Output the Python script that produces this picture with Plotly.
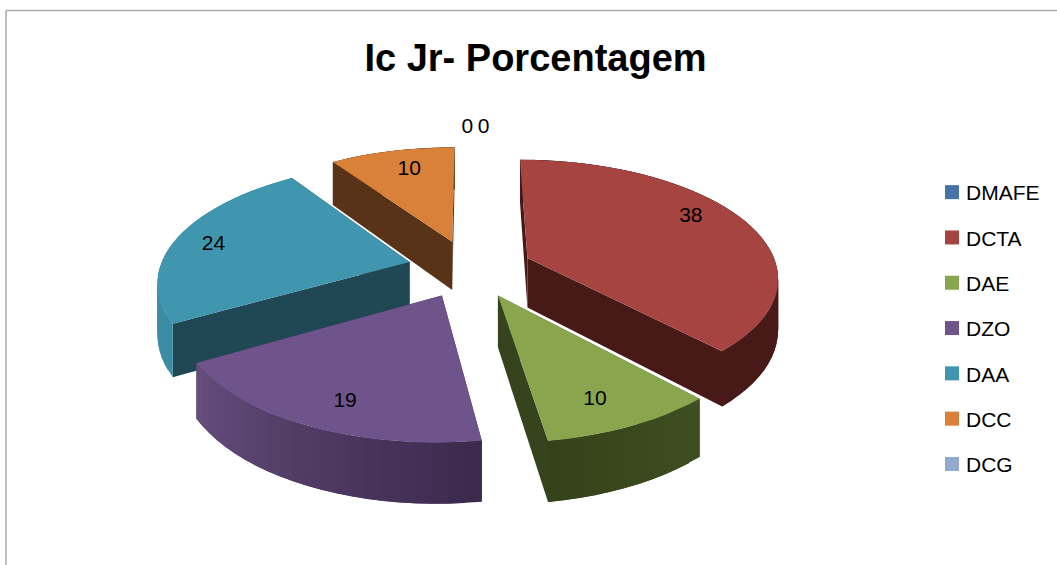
import math
import plotly.graph_objects as go

categories = ["DMAFE", "DCTA", "DAE", "DZO", "DAA", "DCC", "DCG"]
values = [0, 38.1, 9.5, 19.0, 23.8, 9.5, 0]

top_colors = ["#4573A7", "#A64442", "#89A64E", "#6F548C", "#3F96AE", "#D98139", "#93A9CF"]
wall_colors = ["#2A4565", "#471A18", "#37431C", "#3B2A4E", "#1F4854", "#593317", "#586680"]
outer_from = ["#4573A7", "#471A18", "#3F4E22", "#3B2A4E", "#3C8CA3", "#593317", "#586680"]
outer_to = ["#4573A7", "#471A18", "#364219", "#654D7C", "#3C8CA3", "#593317", "#586680"]
draw_order = [5, 4, 1, 3, 2]
label_dtheta = [3.1, -6.9, 2.4, -3.0, -2, 1.5, -0.6]
label_r = [1.23, 0.81, 0.81, 0.82, 0.83, 0.76, 1.23]

CX, CY, A, B, K, H, EXPLODE, ROT = 470, 268.5, 250, 116, 0.15, 50, 0.25, 0
FONT = "Liberation Sans"

total = sum(values)
starts, acc = [], 0
for v in values:
    starts.append(acc / total * 360 + ROT)
    acc += v


def project(theta_deg, r, z, mid_deg):
    t, m = math.radians(theta_deg), math.radians(mid_deg)
    x = r * math.sin(t) + EXPLODE * math.sin(m)
    y = -r * math.cos(t) - EXPLODE * math.cos(m)
    s = 1 / (1 - K * y)
    return CX + A * x * s, CY + B * y * s + H * z * s


def mix(c1, c2, f):
    a = [int(c1[i:i + 2], 16) for i in (1, 3, 5)]
    b = [int(c2[i:i + 2], 16) for i in (1, 3, 5)]
    return "#%02x%02x%02x" % tuple(round(p + (q - p) * f) for p, q in zip(a, b))


fig = go.Figure()


def poly(pts, color):
    xs = [p[0] for p in pts] + [pts[0][0]]
    ys = [p[1] for p in pts] + [pts[0][1]]
    fig.add_trace(go.Scatter(x=xs, y=ys, mode="lines", fill="toself", fillcolor=color,
                             line=dict(color=color, width=0), showlegend=False,
                             hoverinfo="skip"))


for i in draw_order:
    a0 = starts[i]
    sweep = values[i] / total * 360
    a1 = a0 + sweep
    mid = a0 + sweep / 2
    n = max(2, int(sweep / 3))
    angles = [a0 + sweep * j / n for j in range(n + 1)]
    # radial walls
    for edge in (a0, a1):
        poly([project(edge, 0, 0, mid), project(edge, 1, 0, mid),
              project(edge, 1, 1, mid), project(edge, 0, 1, mid)], wall_colors[i])
    # outer curved wall: strips overlap so no seams show
    for j in range(n):
        end = angles[min(j + 2, n)]
        poly([project(angles[j], 1, 0, mid), project(end, 1, 0, mid),
              project(end, 1, 1, mid), project(angles[j], 1, 1, mid)],
             mix(outer_from[i], outer_to[i], j / max(1, n - 1)))
    # top face
    poly([project(0, 0, 0, mid)] + [project(t, 1, 0, mid) for t in angles], top_colors[i])

# data labels
lx, ly, lt = [], [], []
for i, v in enumerate(values):
    mid = starts[i] + v / total * 180
    px, py = project(mid + label_dtheta[i], label_r[i], 0, mid)
    lx.append(px)
    ly.append(py)
    lt.append(f"{v:.0f}")
fig.add_trace(go.Scatter(x=lx, y=ly, text=lt, mode="text", showlegend=False, hoverinfo="skip",
                         textposition="middle center",
                         textfont=dict(family=FONT, size=21, color="#000000")))

# legend entries
for i, c in enumerate(categories):
    fig.add_trace(go.Scatter(x=[None], y=[None], mode="markers", name=c, legendgroup=c,
                             marker=dict(symbol="square", size=14, color=top_colors[i])))

# chart frame
fig.add_shape(type="line", xref="paper", yref="paper", x0=6 / 1057, x1=1, y0=1 - 10.5 / 565, y1=1 - 10.5 / 565,
              line=dict(color="#ABABAB", width=1.5))
fig.add_shape(type="line", xref="paper", yref="paper", x0=6 / 1057, x1=6 / 1057, y0=0, y1=1 - 10.5 / 565,
              line=dict(color="#ABABAB", width=1.5))

fig.update_layout(
    width=1057, height=565, margin=dict(l=0, r=0, t=0, b=0),
    paper_bgcolor="white", plot_bgcolor="white",
    title=dict(text="<b>Ic Jr- Porcentagem</b>", x=535.5 / 1057, xanchor="center",
               y=1 - 58 / 565, yanchor="middle",
               font=dict(family=FONT, size=38, color="#000000")),
    xaxis=dict(range=[0, 1057], visible=False, fixedrange=True),
    yaxis=dict(range=[565, 0], visible=False, fixedrange=True),
    legend=dict(x=926 / 1057, xanchor="left", y=1 - 172 / 565, yanchor="top",
                font=dict(family=FONT, size=21, color="#000000"),
                tracegroupgap=15, itemwidth=30, bgcolor="rgba(0,0,0,0)"),
)

fig.write_html(
    "out.html",
    config={"displayModeBar": False},
    post_script="document.body.style.margin='0';document.body.style.overflow='hidden';"
                "document.querySelectorAll('.legendsymbols').forEach(function(g){g.setAttribute('transform','translate(6,0)');});",
)
